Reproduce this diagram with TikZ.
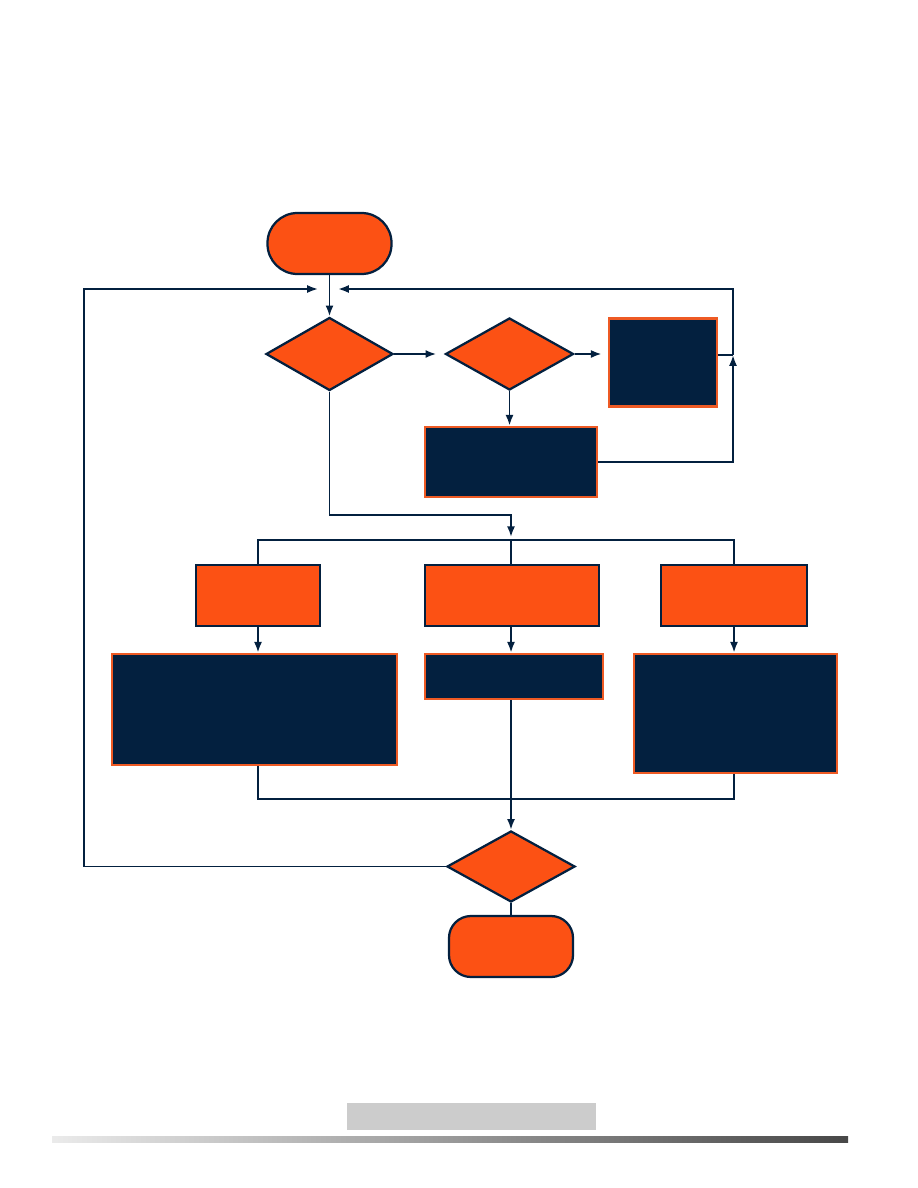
\documentclass[tikz,border=0pt]{standalone}
\usetikzlibrary{shapes.geometric,arrows.meta}
\definecolor{flowor}{HTML}{FC5114}
\definecolor{flownavy}{HTML}{03203F}
\definecolor{boxrim}{HTML}{EE5A24}
\begin{document}
\begin{tikzpicture}[x=0.025cm,y=-0.025cm,>={Latex[length=0.27cm,width=0.2cm]},
  terminal/.style={draw=flownavy,fill=flowor,line width=1.6pt,minimum width=3.1cm,minimum height=1.525cm,inner sep=0pt},
  decision/.style={diamond,draw=flownavy,fill=flowor,line width=1.6pt,inner sep=0pt},
  procbox/.style={rectangle,draw=flownavy,fill=flowor,line width=1.8pt,inner sep=0pt,minimum height=1.525cm},
  darkbox/.style={rectangle,draw=boxrim,fill=flownavy,line width=1.8pt,inner sep=0pt},
  link/.style={draw=flownavy,line width=1.4pt}]
\useasboundingbox (0,0) rectangle (918,1188);
% top part
\node[terminal,rounded corners=0.75cm](start) at (329.5,243.5){};
\node[decision,minimum width=3.175cm,minimum height=1.825cm](d1) at (329.5,354){};
\node[decision,minimum width=3.2cm,minimum height=1.8cm](d2) at (509.5,354){};
\node[darkbox,minimum width=2.7cm,minimum height=2.2cm](boxA) at (663,362.5){};
\node[darkbox,minimum width=4.3cm,minimum height=1.75cm](boxB) at (511,462){};
\coordinate (mergeL) at (318,289);
\coordinate (mergeR) at (338,289);
\coordinate (lloop) at (84,289);
\coordinate (rloop) at (733,289);
\coordinate (rjoin) at (733,355);
\draw[link,->](start.south)--(d1.north);
\draw[link,->,shorten >=0.2cm](d1.east)--(d2.west);
\draw[link,->,shorten >=0.15cm](d2.east)--(d2.east-|boxA.west);
\draw[link,->](d2.south)--(d2.south|-boxB.north);
\draw[link](rjoin-|boxA.east)--(rjoin);
\draw[link,->](boxB.east)-|(rjoin);
\draw[link,->](rjoin)--(rloop)--(mergeR);
% three branches
\node[procbox,minimum width=3.1cm](c1) at (258,595.5){};
\node[procbox,minimum width=4.35cm](c2) at (512,595.5){};
\node[procbox,minimum width=3.65cm](c3) at (734,595.5){};
\node[darkbox,minimum width=7.125cm,minimum height=2.775cm](e1) at (254.5,709.5){};
\node[darkbox,minimum width=4.45cm,minimum height=1.125cm](e2) at (514,676.5){};
\node[darkbox,minimum width=5.075cm,minimum height=2.975cm](e3) at (735.5,713.5){};
\coordinate (jn) at (511,515);
\coordinate (bus) at (511,540);
\draw[link,->,shorten >=2pt](d1.south)|-(jn)--(bus);
\draw[link](c1.north)|-(bus)-|(c3.north);
\draw[link](bus)--(bus|-c2.north);
\draw[link,->](c1.south)--(c1.south|-e1.north);
\draw[link,->](bus|-c2.south)--(bus|-e2.north);
\draw[link,->](c3.south)--(c3.south|-e3.north);
% bottom part
\node[decision,minimum width=3.2cm,minimum height=1.775cm](d3) at (511,866.5){};
\node[terminal,rounded corners=0.55cm](stop) at (511,946.5){};
\coordinate (bl) at (258,799);
\coordinate (br) at (734,799);
\draw[link](c1.south|-e1.south)--(bl)--(br)--(c3.south|-e3.south);
\draw[link,->](bus|-e2.south)--(d3.north);
\draw[link](d3.south)--(stop.north);
\draw[link,->](d3.west)-|(lloop)--(mergeL);
% footer
\fill[black!20](347,1103) rectangle (596,1130);
\shade[left color=black!8,right color=black!72](52,1136) rectangle (848,1142);
\end{tikzpicture}
\end{document}
